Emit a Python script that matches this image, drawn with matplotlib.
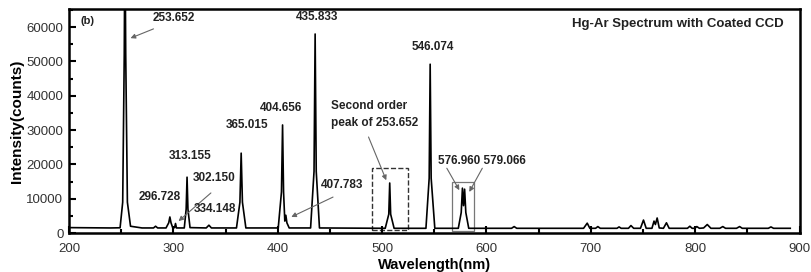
import matplotlib
matplotlib.use("Agg")
import matplotlib.pyplot as plt
from matplotlib.patches import Rectangle
from matplotlib.ticker import MultipleLocator

plt.rcParams['font.family'] = ['Liberation Sans', 'DejaVu Sans']

# spectrum trace (nm, counts)
wavelength = [
    200, 240, 249, 251.5, 253.0, 253.65, 254.4, 256, 259, 270,
    281, 283, 285, 293, 295.6, 296.7, 297.8, 299.5, 301.2, 302.1, 303.0, 304.5,
    310.5, 312.3, 313.15, 314.0, 316, 331.5, 334.1, 336.5,
    360.5, 363.8, 365.0, 366.2, 369.5,
    400.5, 403.6, 404.65, 405.6, 406.8, 407.8, 408.8, 411,
    431.5, 434.8, 435.85, 436.9, 440,
    503, 506.4, 507.3, 508.2, 511.5,
    542, 545.1, 546.05, 547.0, 550.5,
    573, 575.8, 576.95, 578.0, 579.05, 580.2, 583,
    624, 626.5, 629, 693, 696.5, 699, 704.5, 706.7, 709,
    725, 727, 729, 736, 738.4, 741, 747.5, 750.4, 753,
    758.5, 760.5, 761.8, 763.5, 765.5, 769.5, 772.4, 775,
    792.5, 794.8, 797, 799.5, 801.5, 804, 808, 811.5, 815,
    823.5, 826.4, 829, 839.5, 842.5, 845, 870, 872.5, 875, 891,
]
counts = [
    1600, 1500, 1550, 9000, 52000, 90000, 52000, 9000, 2000, 1500,
    1500, 2000, 1500, 1500, 3000, 4700, 3000, 1500, 1600, 2800, 1500, 1500,
    1500, 7000, 16300, 7000, 1600, 1500, 2300, 1500,
    1500, 9000, 23300, 9000, 1500,
    1500, 12000, 31500, 12000, 3500, 5200, 3000, 1500,
    1500, 18000, 58000, 18000, 1500,
    1400, 5500, 14600, 5500, 1400,
    1400, 16000, 49200, 16000, 1400,
    1400, 6000, 13100, 8000, 12800, 6000, 1400,
    1400, 1900, 1400, 1400, 2900, 1400, 1400, 1900, 1400,
    1400, 1800, 1400, 1400, 2200, 1400, 1400, 3800, 1400,
    1400, 3500, 2500, 4400, 1500, 1400, 3000, 1400,
    1400, 2000, 1400, 1400, 1900, 1400, 1500, 2500, 1400,
    1400, 1900, 1400, 1400, 1900, 1400, 1400, 1800, 1400, 1400,
]

# (label, text x, text y, arrow tail, arrow head)
labels = [
    ("253.652", 300, 62600, (281, 59500), (259, 56800)),
    ("296.728", 287, 10500, None, None),
    ("313.155", 316, 22400, None, None),
    ("302.150", 339, 16000, (336, 11700), (305, 3500)),
    ("334.148", 340, 7000, None, None),
    ("365.015", 371, 31500, None, None),
    ("404.656", 403, 36400, None, None),
    ("407.783", 461.5, 14000, (453, 10500), (413, 4700)),
    ("435.833", 438, 62900, None, None),
    ("546.074", 549, 54200, None, None),
]

fig = plt.figure(figsize=(8.11, 2.72), dpi=100)
ax = fig.add_axes([0.085, 0.143, 0.901, 0.824])

ax.plot(wavelength, counts, color='black', lw=1.2)

ax.set_xlim(200, 900)
ax.set_ylim(0, 65300)
ax.xaxis.set_major_locator(MultipleLocator(100))
ax.xaxis.set_minor_locator(MultipleLocator(50))
ax.yaxis.set_major_locator(MultipleLocator(10000))
ax.yaxis.set_minor_locator(MultipleLocator(5000))
ax.tick_params(which='both', direction='in', width=1.5, labelsize=9.5,
               labelcolor='#333333', right=False, top=False)
ax.tick_params(which='major', length=5)
ax.tick_params(which='minor', length=3)
ax.tick_params(axis='x', pad=7)
ax.tick_params(axis='y', pad=4)
for s in ax.spines.values():
    s.set_linewidth(1.8)

ax.set_xlabel("Wavelength(nm)", fontsize=10.5, fontweight='bold', labelpad=2)
ax.set_ylabel("Intensity(counts)", fontsize=11, fontweight='bold', labelpad=2)

arrow = dict(arrowstyle='-|>', color='#666666', lw=0.8, mutation_scale=7,
             shrinkA=0, shrinkB=0)

for text, tx, ty, tail, head in labels:
    ax.text(tx, ty, text, ha='center', va='center', fontsize=8.5,
            fontweight='bold', color='#222222')
    if tail is not None:
        ax.annotate("", xy=head, xytext=tail, arrowprops=arrow)

ax.text(451.5, 34600, "Second order\npeak of 253.652", ha='left', va='center',
        fontsize=8.5, fontweight='bold', color='#222222', linespacing=1.6)
ax.annotate("", xy=(504, 15400), xytext=(487, 28000), arrowprops=arrow)

ax.text(596, 21000, "576.960 579.066", ha='center', va='center', fontsize=8.5,
        fontweight='bold', color='#222222')
ax.annotate("", xy=(574, 12500), xytext=(562, 18900), arrowprops=arrow)
ax.annotate("", xy=(583.5, 12000), xytext=(596, 18900), arrowprops=arrow)

ax.add_patch(Rectangle((490.7, 900), 34.3, 18050, fill=False, ls='--',
                       lw=1.0, ec='#333333'))
ax.add_patch(Rectangle((567.2, 600), 21.1, 14270, fill=False,
                       lw=0.9, ec='#777777'))

ax.text(885, 60900, "Hg-Ar Spectrum with Coated CCD", ha='right', va='center',
        fontsize=9.5, fontweight='bold', color='#222222')
ax.text(211.5, 61800, "(b)", ha='left', va='center', fontsize=8,
        fontweight='bold', color='#222222')

fig.savefig("out.png", dpi=100)
